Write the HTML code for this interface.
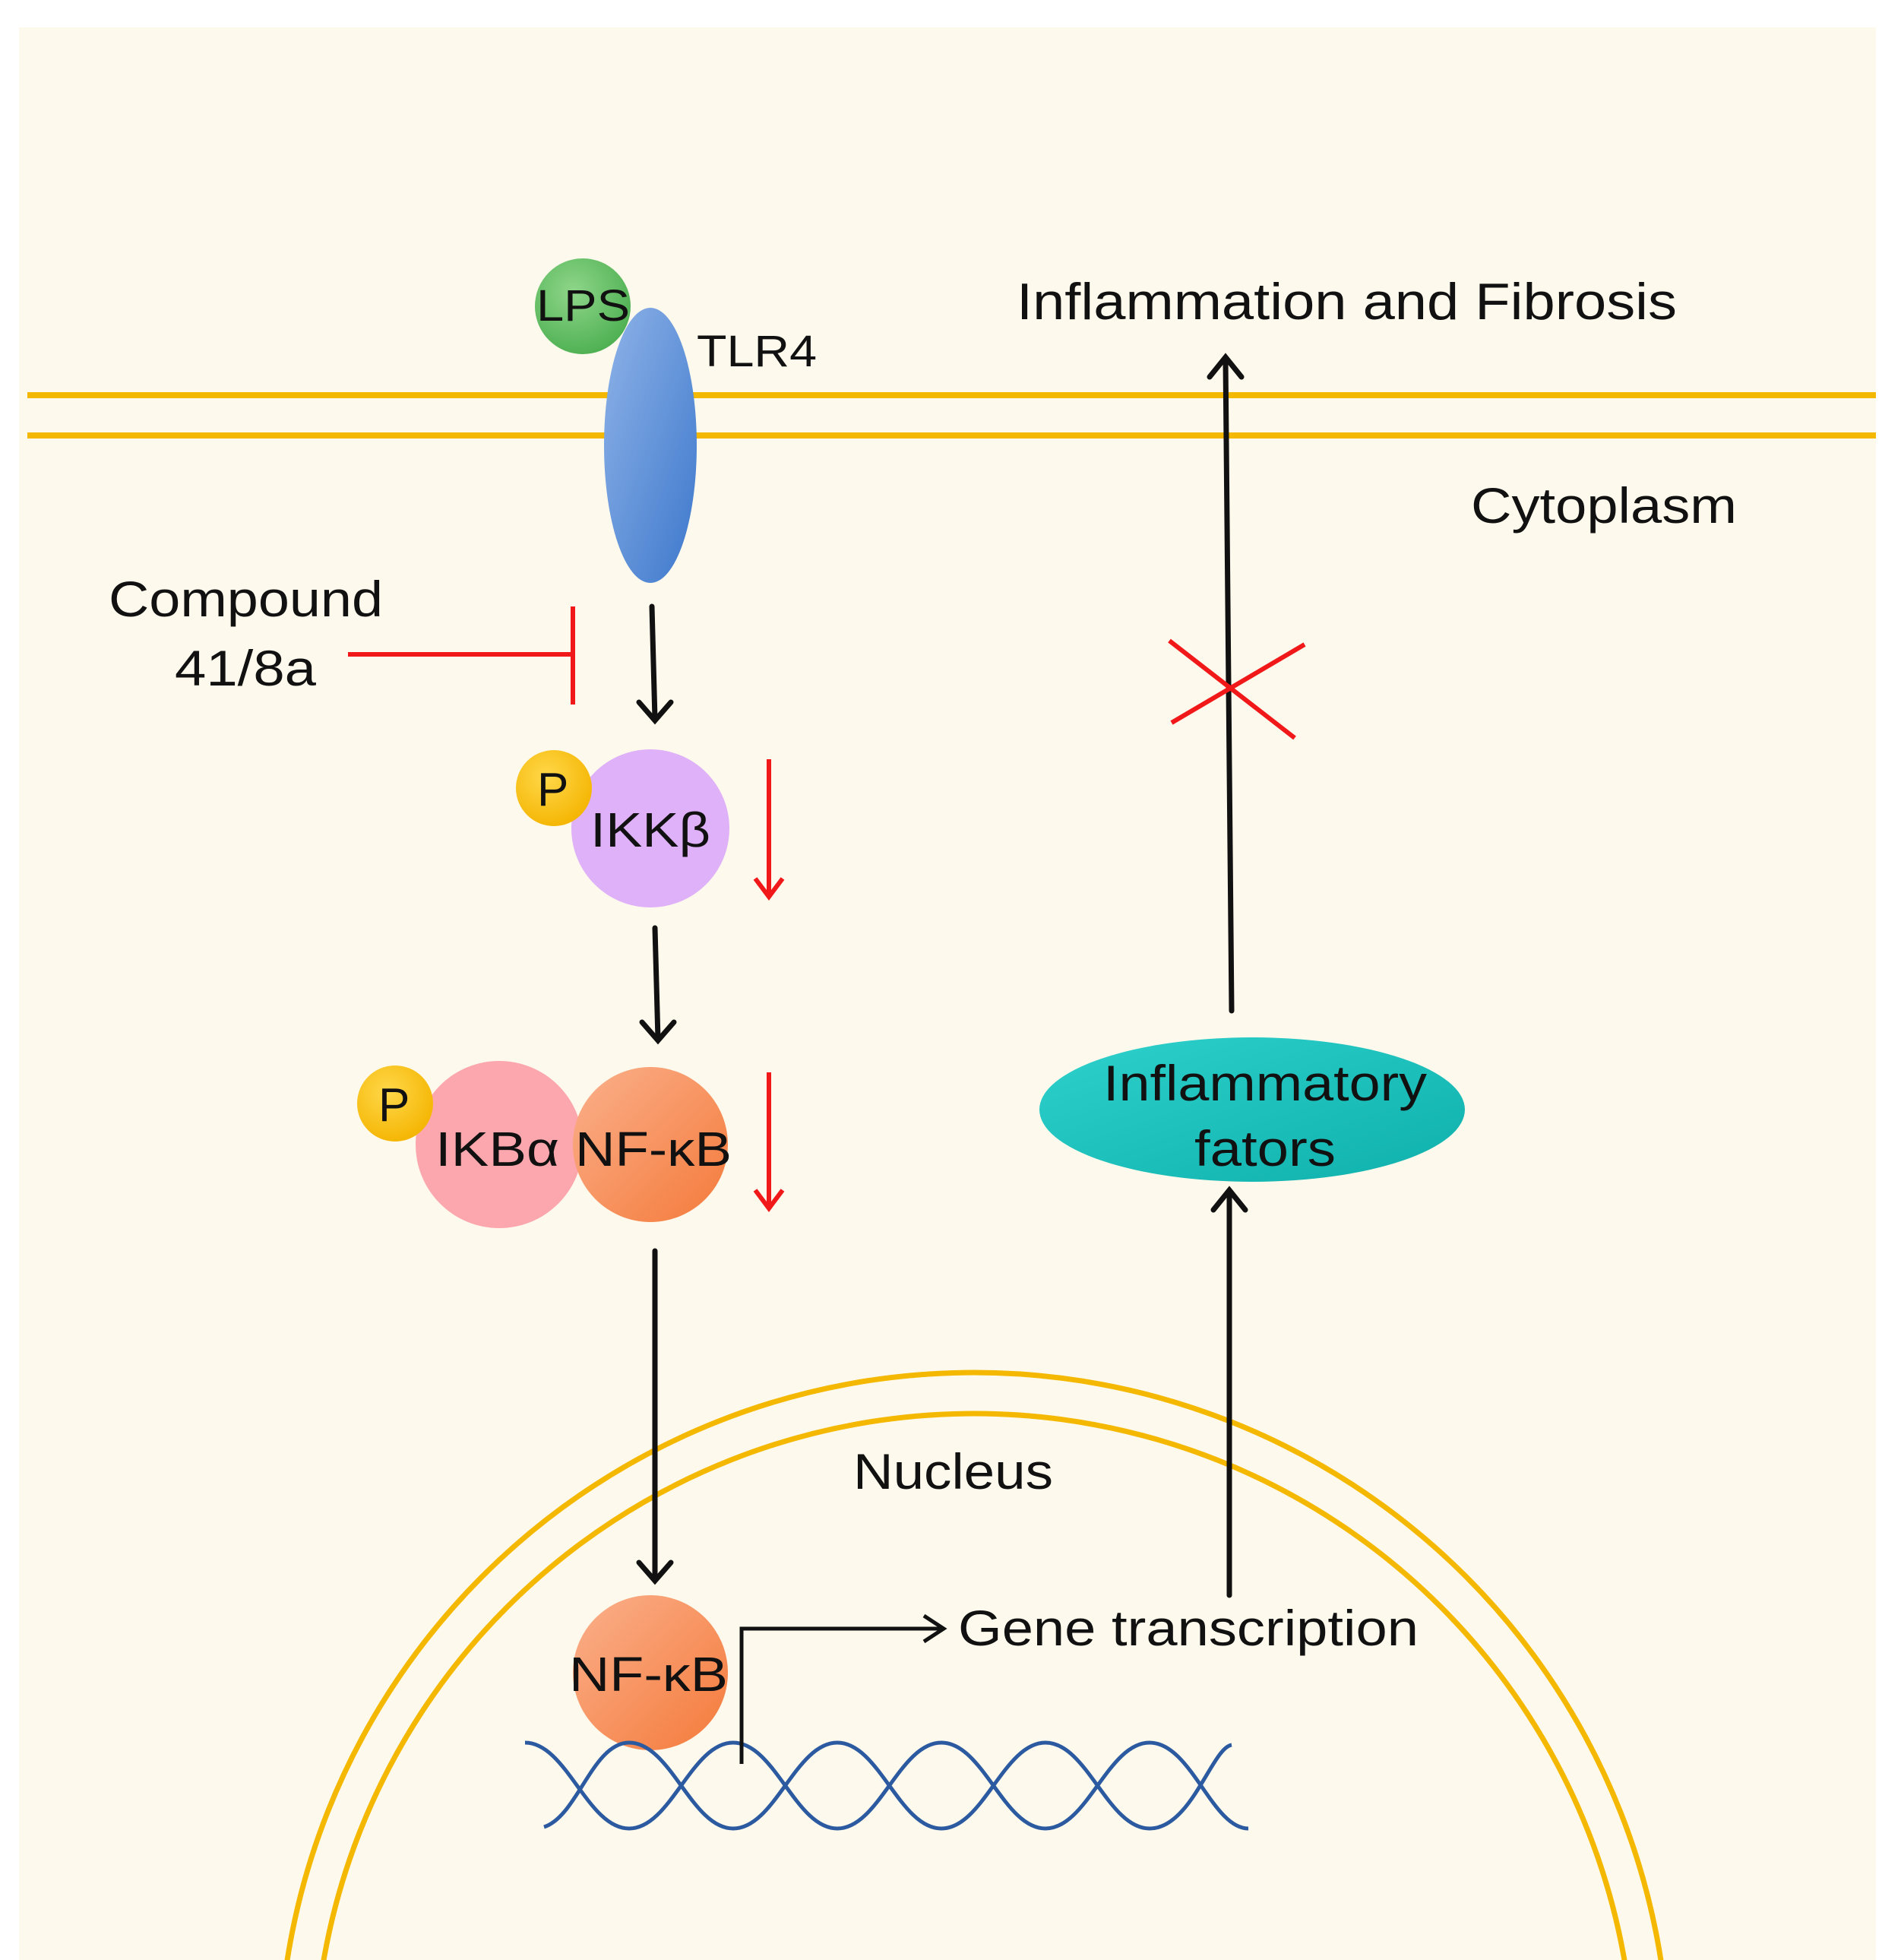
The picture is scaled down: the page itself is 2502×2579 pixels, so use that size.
<!DOCTYPE html>
<html><head><meta charset="utf-8"><style>
html,body{margin:0;padding:0;background:#fff;overflow:hidden;}
svg{display:block;}
text{font-family:"Liberation Sans",Arial,sans-serif;fill:#111;}
</style></head><body>
<svg width="2502" height="2579" viewBox="0 0 2502 2579" xmlns="http://www.w3.org/2000/svg">
<defs>
<radialGradient id="gLPS" cx="0.4" cy="0.35" r="0.7"><stop offset="0" stop-color="#8fd68a"/><stop offset="1" stop-color="#4caf50"/></radialGradient>
<linearGradient id="gTLR" x1="0" y1="0" x2="1" y2="1"><stop offset="0" stop-color="#8fb3e8"/><stop offset="1" stop-color="#3d78cc"/></linearGradient>
<radialGradient id="gP" cx="0.4" cy="0.35" r="0.7"><stop offset="0" stop-color="#ffd84a"/><stop offset="1" stop-color="#f4b400"/></radialGradient>
<linearGradient id="gNF" x1="0" y1="0" x2="1" y2="1"><stop offset="0" stop-color="#fbb08c"/><stop offset="1" stop-color="#f47a3a"/></linearGradient>
<linearGradient id="gTeal" x1="0" y1="0" x2="1" y2="1"><stop offset="0" stop-color="#2ed1cc"/><stop offset="1" stop-color="#0fb0ac"/></linearGradient>
</defs>
<rect x="25" y="36" width="2444" height="2543" fill="#fdf9ec"/>
<line x1="36" y1="520" x2="2469" y2="520" stroke="#f5b800" stroke-width="8"/>
<line x1="36" y1="573" x2="2469" y2="573" stroke="#f5b800" stroke-width="8"/>
<clipPath id="cp"><rect x="25" y="36" width="2444" height="2543"/></clipPath>
<g clip-path="url(#cp)">
<circle cx="1282" cy="2721" r="915" fill="none" stroke="#f5b800" stroke-width="7"/>
<circle cx="1282" cy="2729" r="869" fill="none" stroke="#f5b800" stroke-width="7"/>
</g>
<circle cx="767" cy="403" r="63" fill="url(#gLPS)"/>
<ellipse cx="856" cy="586" rx="61" ry="181" fill="url(#gTLR)"/>
<text x="706" y="422" font-size="58" textLength="123" lengthAdjust="spacingAndGlyphs">LPS</text>
<text x="917" y="482" font-size="58" textLength="158" lengthAdjust="spacingAndGlyphs">TLR4</text>
<text x="1338" y="420" font-size="68" textLength="869" lengthAdjust="spacingAndGlyphs">Inflammation and Fibrosis</text>
<text x="1936" y="688" font-size="66" textLength="350" lengthAdjust="spacingAndGlyphs">Cytoplasm</text>
<text x="143" y="811" font-size="66" textLength="361" lengthAdjust="spacingAndGlyphs">Compound</text>
<text x="230" y="902" font-size="66" textLength="186" lengthAdjust="spacingAndGlyphs">41/8a</text>
<line x1="458" y1="861" x2="754" y2="861" stroke="#f01818" stroke-width="6"/>
<line x1="754" y1="798" x2="754" y2="927" stroke="#f01818" stroke-width="6"/>
<g stroke="#111" stroke-width="7" fill="none" stroke-linecap="round">
<line x1="858" y1="798" x2="862" y2="946"/><polyline points="841,924 862,948 883,924"/>
<line x1="862" y1="1221" x2="866" y2="1367"/><polyline points="845,1345 866,1369 887,1345"/>
<line x1="862" y1="1646" x2="862" y2="2078"/><polyline points="841,2056 862,2080 883,2056"/>
<line x1="1621" y1="1330" x2="1613" y2="474"/><polyline points="1592,496 1613,470 1634,496"/>
<line x1="1618" y1="2099" x2="1618" y2="1570"/><polyline points="1597,1592 1618,1566 1639,1592"/>
</g>
<g stroke="#f01818" stroke-width="6" fill="none">
<line x1="1012" y1="999" x2="1012" y2="1180"/><polyline points="994,1156 1012,1180 1030,1156"/>
<line x1="1012" y1="1411" x2="1012" y2="1590"/><polyline points="994,1566 1012,1590 1030,1566"/>
<line x1="1539" y1="843" x2="1704" y2="971"/><line x1="1542" y1="951" x2="1717" y2="848"/>
</g>
<circle cx="856" cy="1090" r="104" fill="#dfb1f8"/>
<circle cx="729" cy="1037" r="50" fill="url(#gP)"/>
<text x="707" y="1060" font-size="62">P</text>
<text x="777" y="1114" font-size="64" textLength="158" lengthAdjust="spacingAndGlyphs">IKKβ</text>
<circle cx="657" cy="1506" r="110" fill="#fca6ad"/>
<circle cx="856" cy="1506" r="102" fill="url(#gNF)"/>
<circle cx="520" cy="1452" r="50" fill="url(#gP)"/>
<text x="498" y="1475" font-size="62">P</text>
<text x="573" y="1534" font-size="64" textLength="163" lengthAdjust="spacingAndGlyphs">IKBα</text>
<text x="757" y="1534" font-size="64" textLength="206" lengthAdjust="spacingAndGlyphs">NF-κB</text>
<text x="1123" y="1959" font-size="66" textLength="263" lengthAdjust="spacingAndGlyphs">Nucleus</text>
<circle cx="856" cy="2201" r="102" fill="url(#gNF)"/>
<text x="749" y="2225" font-size="64" textLength="209" lengthAdjust="spacingAndGlyphs">NF-κB</text>
<g stroke="#2c5aa0" stroke-width="5" fill="none">
<path d="M691,2293 C746,2293 773,2406 828,2406 C883,2406 910,2293 965,2293 C1020,2293 1047,2406 1102,2406 C1157,2406 1184,2293 1239,2293 C1294,2293 1321,2406 1376,2406 C1431,2406 1458,2293 1513,2293 C1568,2293 1595,2406 1643,2406"/>
<path d="M716,2404 C760,2390 780,2293 828,2293 C883,2293 910,2406 965,2406 C1020,2406 1047,2293 1102,2293 C1157,2293 1184,2406 1239,2406 C1294,2406 1321,2293 1376,2293 C1431,2293 1458,2406 1513,2406 C1568,2406 1595,2300 1621,2296"/>
</g>
<g stroke="#111" stroke-width="5" fill="none">
<polyline points="976,2321 976,2143 1238,2143"/><polyline points="1216,2126 1242,2143 1216,2160"/>
</g>
<text x="1261" y="2165" font-size="66" textLength="606" lengthAdjust="spacingAndGlyphs">Gene transcription</text>
<ellipse cx="1648" cy="1460" rx="280" ry="95" fill="url(#gTeal)"/>
<text x="1452" y="1448" font-size="66" textLength="426" lengthAdjust="spacingAndGlyphs">Inflammatory</text>
<text x="1572" y="1534" font-size="66" textLength="186" lengthAdjust="spacingAndGlyphs">fators</text>
</svg>
</body></html>
